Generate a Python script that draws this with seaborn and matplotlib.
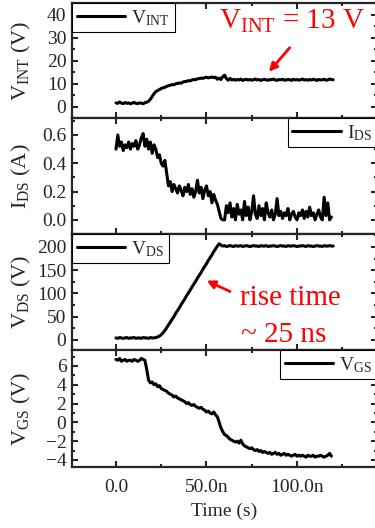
import numpy as np
import pandas as pd
import matplotlib
matplotlib.use("Agg")
import matplotlib.pyplot as plt
import seaborn as sns
from matplotlib.ticker import MultipleLocator, FixedLocator, FixedFormatter

v_int = [1.6, 1.4, 2.0, 1.5, 1.3, 1.7, 1.4, 1.6, 1.2, 1.5, 1.8, 1.4, 1.3, 1.6, 1.5, 1.2, 1.7, 1.9,
         2.3, 3.2, 4.4, 5.6, 6.5, 7.0, 7.4, 7.9, 8.2, 8.4, 8.8, 9.1, 9.3,
         9.6, 9.5, 9.9, 10.1, 10.3, 10.2, 10.7, 10.9, 11.0, 11.3, 11.2, 11.6, 11.8, 11.7, 12.1,
         12.2, 12.4, 12.3, 12.6, 12.8, 12.5, 12.7, 12.9, 12.6, 12.8, 11.9, 12.4, 11.8,
         13.1, 13.7, 12.2, 11.5, 12.3, 11.6,
         11.9, 11.5, 11.8, 11.6, 12.0, 11.4, 11.7, 11.9, 11.6, 11.8,
         11.5, 11.7, 12.0, 11.6, 11.8, 11.4, 11.7, 11.9, 11.6, 11.5,
         11.8, 11.7, 12.0, 11.6, 11.4, 11.8, 11.7, 11.9, 11.5, 11.6,
         11.8, 11.7, 11.4, 11.9, 11.6, 11.8, 11.5, 11.7, 12.0, 11.6,
         11.7, 11.5, 11.8, 11.6, 11.9, 11.7, 11.4, 11.8, 11.6, 11.7,
         11.9, 11.5, 11.6, 12.0, 11.8, 11.7]

i_ds = [0.50, 0.60, 0.52, 0.55, 0.49, 0.53, 0.51, 0.55, 0.50, 0.54,
        0.52, 0.56, 0.50, 0.53, 0.58, 0.61, 0.52, 0.57, 0.50, 0.55,
        0.47, 0.53, 0.50, 0.44, 0.46, 0.40, 0.38, 0.42, 0.33, 0.24,
        0.27, 0.20, 0.25, 0.22, 0.19, 0.24, 0.21, 0.17, 0.23, 0.20,
        0.25, 0.18, 0.22, 0.16, 0.20, 0.28, 0.19, 0.23, 0.15, 0.21,
        0.24, 0.17, 0.20, 0.12, 0.18, 0.14, 0.11, 0.06, 0.01, 0.00,
        0.00, 0.10, 0.05, 0.12, 0.02, 0.08, 0.00, 0.11, 0.04, 0.07,
        0.00, 0.13, 0.03, 0.09, 0.00, 0.06, 0.17, 0.04, 0.01, 0.10,
        0.03, 0.08, 0.00, 0.12, 0.05, 0.02, 0.07, 0.00, 0.04, 0.15,
        0.03, 0.06, 0.01, 0.05, 0.03, 0.08, 0.00, 0.04, 0.06, 0.02,
        0.00, 0.05, 0.03, 0.07, 0.01, 0.06, 0.02, 0.09, 0.03, 0.05,
        0.00, 0.04, 0.07, 0.02, 0.00, 0.16, 0.03, 0.12, 0.00, 0.02]

v_ds = [4, 3, 5, 4, 3, 4, 5, 3, 4, 4, 5, 3, 4, 4, 3, 5, 4, 4, 3, 5, 4, 4, 5, 6,
        8, 11, 15, 20, 26, 32, 38, 44, 50, 57, 63, 69, 76, 82, 88, 95, 101, 107,
        114, 120, 126, 133, 139, 145, 152, 158, 164, 171, 177, 183, 190, 196, 202, 207,
        204, 202, 203, 201, 202, 203, 202, 201, 203, 202,
        202, 203, 201, 202, 203, 202, 201, 202, 203, 202,
        202, 201, 203, 202, 202, 203, 201, 202, 202, 203,
        202, 201, 202, 203, 202, 202, 201, 203, 202, 202,
        203, 202, 201, 202, 202, 203, 202, 201, 203, 202,
        202, 201, 202, 203, 202, 202, 201, 203, 202, 202,
        203, 202, 202]

v_gs = [6.7, 6.6, 6.8, 6.5, 6.6, 6.7, 6.5, 6.6, 6.6, 6.5, 6.7, 6.6, 6.5, 6.6, 6.8, 6.7, 6.6,
        5.6, 4.5, 4.2, 4.3,
        4.0, 4.1, 3.8, 3.9, 3.6, 3.5, 3.4, 3.3, 3.1, 3.0, 2.9, 2.7, 2.8,
        2.6, 2.5, 2.4, 2.3, 2.2, 2.0, 2.1, 1.9, 1.8, 1.9, 1.7, 1.6, 1.5, 1.6, 1.4, 1.3, 1.1, 1.2, 1.0,
        0.9, 1.1, 0.8, 0.6,
        0.0, -0.6, -1.0, -1.3, -1.4, -1.6,
        -1.8, -1.9, -2.0, -2.1, -2.0, -2.2, -1.9, -2.3,
        -2.5, -2.6, -2.7, -2.8, -2.7, -2.9, -3.0, -2.9, -3.1, -3.0, -3.2, -3.1,
        -3.2, -3.3, -3.2, -3.4, -3.3, -3.2, -3.4, -3.3, -3.5, -3.4,
        -3.3, -3.5, -3.4, -3.5, -3.6, -3.5, -3.4, -3.6, -3.5, -3.6,
        -3.5, -3.6, -3.7, -3.5, -3.6, -3.6, -3.5, -3.7, -3.6, -3.6,
        -3.5, -3.6, -3.7, -3.6, -3.5, -3.3, -3.6]

series = [v_int, i_ds, v_ds, v_gs]
legend_labels = [r"V$_{\mathrm{INT}}$", r"I$_{\mathrm{DS}}$", r"V$_{\mathrm{DS}}$", r"V$_{\mathrm{GS}}$"]
y_labels = [r"V$_{\mathrm{INT}}$ (V)", r"I$_{\mathrm{DS}}$ (A)", r"V$_{\mathrm{DS}}$ (V)", r"V$_{\mathrm{GS}}$ (V)"]
y_limits = [(-5, 45.2), (-0.1, 0.72), (-22, 228), (-4.75, 7.7)]
y_major = [10, 0.2, 50, 2]
legend_locs = ["upper left", "upper right", "upper left", "upper right"]
x_tick_values = [0.0, 50e-9, 100e-9]
x_tick_labels = ["0.0", "50.0n", "100.0n"]

# ---------------- style ----------------
sns.set_style("ticks")
plt.rcParams["font.family"] = ["Liberation Serif", "DejaVu Serif"]
plt.rcParams["mathtext.fontset"] = "custom"
plt.rcParams["mathtext.rm"] = "Liberation Serif"
plt.rcParams["mathtext.it"] = "Liberation Serif:italic"
plt.rcParams["mathtext.bf"] = "Liberation Serif:bold"
plt.rcParams["axes.linewidth"] = 1.6

W, H = 375, 528
fig = plt.figure(figsize=(W / 100, H / 100), dpi=100)
left_px, right_px = 72, 377
bounds = [3, 118, 234, 350, 467]

axes = []
for i in range(4):
    top, bot = bounds[i], bounds[i + 1]
    ax = fig.add_axes([left_px / W, 1 - bot / H, (right_px - left_px) / W, (bot - top) / H])
    axes.append(ax)

for i, ax in enumerate(axes):
    y = np.asarray(series[i], dtype=float)
    t = np.arange(len(y)) * 1e-9
    df = pd.DataFrame({"t": t, "y": y})
    sns.lineplot(data=df, x="t", y="y", ax=ax, color="black", linewidth=2.2,
                 label=legend_labels[i], estimator=None, sort=False)
    ax.set_xlim(-24.3e-9, 144.2e-9)
    ax.set_ylim(*y_limits[i])
    ax.yaxis.set_major_locator(MultipleLocator(y_major[i]))
    ax.yaxis.set_minor_locator(MultipleLocator(y_major[i] / 2))
    ax.xaxis.set_major_locator(FixedLocator(x_tick_values))
    ax.xaxis.set_minor_locator(MultipleLocator(25e-9))
    ax.tick_params(which="both", direction="in", top=True, right=True, width=1.5)
    ax.tick_params(which="major", length=4.5)
    ax.tick_params(which="minor", length=2.5)
    ax.tick_params(axis="y", labelsize=14, pad=4)
    ax.set_ylabel(y_labels[i], fontsize=16)
    ax.yaxis.set_label_coords(-0.128, 0.5)
    if i < 3:
        ax.tick_params(axis="x", labelbottom=False)
        ax.set_xlabel("")
    else:
        ax.xaxis.set_major_formatter(FixedFormatter(x_tick_labels))
        ax.tick_params(axis="x", labelsize=14, pad=8.5)
        ax.set_xlabel("Time (s)", fontsize=14, labelpad=5)
    for sp in ax.spines.values():
        sp.set_linewidth(1.6)
    leg = ax.legend(loc=legend_locs[i], borderaxespad=0, frameon=True, fancybox=False,
                    edgecolor="black", framealpha=1, fontsize=14, handlelength=2.5,
                    handletextpad=0.3, borderpad=0.25)
    leg.get_frame().set_linewidth(0.8)
    for ln in leg.get_lines():
        ln.set_linewidth(2.2)

# annotations
arrow_kw = dict(arrowstyle="-|>", color="red", lw=2, mutation_scale=12, shrinkA=0, shrinkB=0)
axes[0].text(97e-9, 33.9, r"V$_{\mathrm{INT}}$ = 13 V", color="red", fontsize=21,
             ha="center", va="baseline")
axes[0].annotate("", xy=(84.5e-9, 15.2), xytext=(96e-9, 25.7), arrowprops=arrow_kw)

axes[2].text(96.5e-9, 75, "rise time", color="red", fontsize=21, ha="center", va="baseline")
axes[2].text(92.5e-9, -4, "~ 25 ns", color="red", fontsize=21, ha="center", va="baseline")
axes[2].annotate("", xy=(50.1e-9, 127.5), xytext=(63e-9, 104), arrowprops=arrow_kw)

fig.savefig("out.png", dpi=100)
